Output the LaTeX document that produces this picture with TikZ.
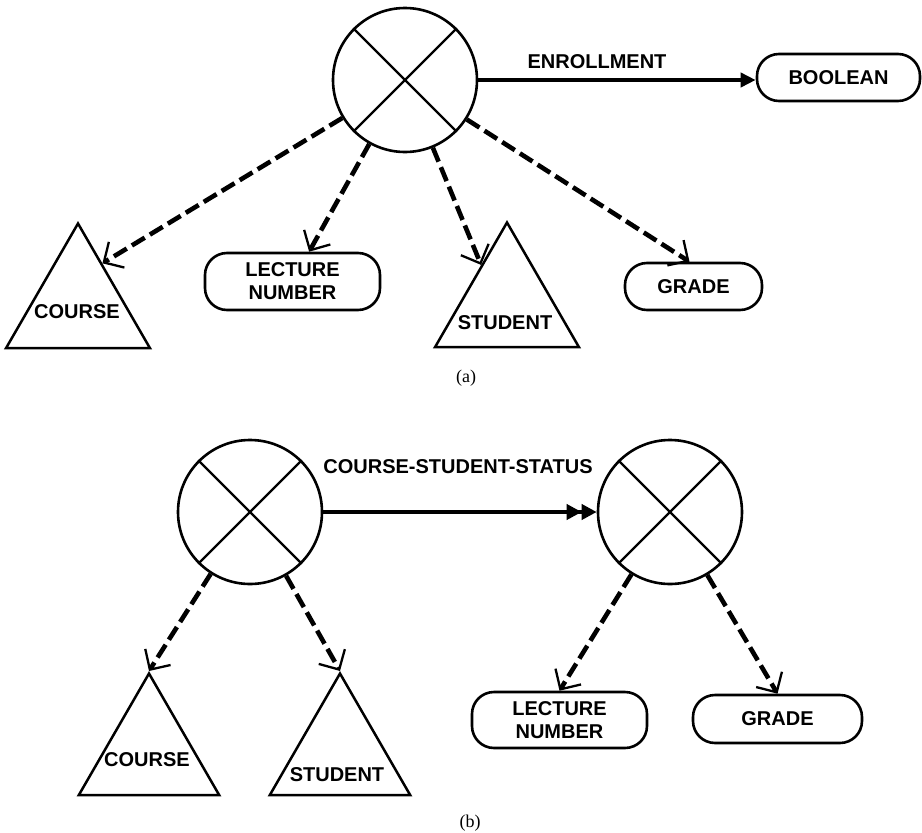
\documentclass[tikz,border=0pt]{standalone}
\usepackage{fontspec}
\setmainfont{Liberation Sans}
\newfontfamily\capfont{Liberation Serif}
\usetikzlibrary{arrows.meta,shapes.geometric,calc}
\begin{document}
\begin{tikzpicture}[x=1pt,y=-1pt,
  lbl/.style={font=\fontsize{20}{25}\selectfont\bfseries, inner sep=0pt, align=center},
  entity/.style={circle, draw, line width=2.6pt, minimum size=144pt, inner sep=0pt},
  cross/.style={line width=2.4pt},
  valbox/.style={draw, line width=2.6pt, rounded corners=22pt, inner sep=0pt, align=center,
    font=\fontsize{20}{25}\selectfont\bfseries},
  tri/.style={draw, line width=2.5pt, regular polygon, regular polygon sides=3, inner sep=0pt},
  dep/.style={line width=4.6pt, dash pattern=on 15pt off 6pt,
    -{Straight Barb[length=15pt,width=30pt,line width'=2.3pt]}},
  func/.style={line width=4pt, -{Triangle[length=15pt,width=14pt]}},
  func2/.style={line width=4pt, -{Triangle[length=15pt,width=15pt]Triangle[length=15pt,width=15pt]}},
  caption/.style={font=\capfont\fontsize{18}{20}\selectfont, inner sep=0pt}]
\useasboundingbox (0,0) rectangle (922,833);

% ---------- (a) ----------
\node[entity] (A) at (405,80) {};
\draw[cross] (A.135) -- (A.-45) (A.45) -- (A.-135);
\node[valbox, minimum width=163pt, minimum height=47pt] (boolA) at (838.5,77.5) {BOOLEAN};
\node[valbox, minimum width=175pt, minimum height=57pt] (lecA) at (292.5,281.5) {LECTURE\\[-2pt]NUMBER};
\node[valbox, minimum width=137pt, minimum height=47pt] (gradeA) at (693.5,286.5) {GRADE};
\node[tri, minimum size=166pt] (courseA) at (78,306.5) {};
\node[lbl] (courseAt) at (77,312) {COURSE};
\node[tri, minimum size=166pt] (studentA) at (507,305.5) {};
\node[lbl] (studentAt) at (505,323) {STUDENT};

\draw[func] (A.east) -- (A.east -| boolA.west);
\node[lbl] (enr) at (597,62) {ENROLLMENT};
\draw[dep] (A) -- ($(courseA.corner 1)!0.33!(courseA.corner 3)$);
\draw[dep] (A) -- (lecA);
\draw[dep] (A) -- ($(studentA.corner 1)!0.35!(studentA.corner 2)$);
\draw[dep] (A) -- ($(gradeA.north)+(-4,0)$);
\node[caption] (capA) at (466,378) {(a)};

% ---------- (b) ----------
\node[entity] (B1) at (250,512) {};
\draw[cross] (B1.135) -- (B1.-45) (B1.45) -- (B1.-135);
\node[entity] (B2) at (670,512) {};
\draw[cross] (B2.135) -- (B2.-45) (B2.45) -- (B2.-135);
\draw[func2] (B1.east) -- (B2.west);
\node[lbl] (css) at (458,467) {COURSE-STUDENT-STATUS};

\node[tri, minimum size=162pt] (courseB) at (149,754.5) {};
\node[lbl] (courseBt) at (147,760) {COURSE};
\node[tri, minimum size=162pt] (studentB) at (340,754.5) {};
\node[lbl] (studentBt) at (337,775) {STUDENT};
\node[valbox, minimum width=175pt, minimum height=56pt] (lecB) at (559.5,720) {LECTURE\\[-2pt]NUMBER};
\node[valbox, minimum width=169pt, minimum height=48pt] (gradeB) at (777.5,719) {GRADE};

\draw[dep] (B1) -- (courseB.corner 1);
\draw[dep] (B1) -- (studentB.corner 1);
\draw[dep] (B2) -- (lecB.north);
\draw[dep] (B2) -- (gradeB.north);
\node[caption] (capB) at (470,823) {(b)};
\end{tikzpicture}
\end{document}
